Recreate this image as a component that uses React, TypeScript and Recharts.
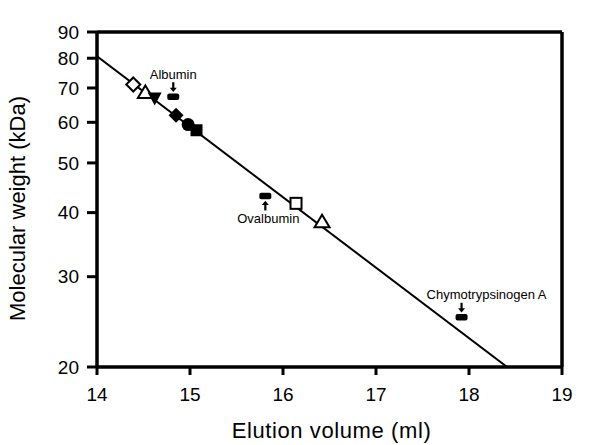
import React from 'react';
import { ScatterChart, Scatter, XAxis, YAxis, ReferenceLine, Label } from 'recharts';

// Proteins on the calibration curve
const markerKinds = [
  'diamondOpen',
  'triangleOpen',
  'triangleDownFilled',
  'diamondFilled',
  'circleFilled',
  'squareFilled',
  'squareOpen',
  'triangleOpen',
];
const elutionVolumes = [14.39, 14.52, 14.62, 14.85, 14.98, 15.07, 16.14, 16.42];
const molecularWeights = [71.1, 68.6, 66.8, 61.9, 59.4, 57.9, 41.7, 38.4];

// Standards (black markers with arrows)
const standardNames = ['Albumin', 'Ovalbumin', 'Chymotrypsinogen A'];
const standardVolumes = [14.82, 15.81, 17.92];
const standardWeights = [67.3, 43.1, 25.0];

// Fitted line end points
const fitVolumes = [14, 18.41];
const fitWeights = [80.7, 20];

const xTicks = [14, 15, 16, 17, 18, 19];
const yTicks = [20, 30, 40, 50, 60, 70, 80, 90];

const FONT = '"Liberation Sans", Arial, sans-serif';

// label placement for the standards: arrow above/below, label x shift
const standardLayout: { [name: string]: { below: boolean; dx: number } } = {
  Albumin: { below: false, dx: 0 },
  Ovalbumin: { below: true, dx: 3 },
  'Chymotrypsinogen A': { below: false, dx: 25 },
};

const proteinData = elutionVolumes.map((x, i) => ({ x, y: molecularWeights[i], kind: markerKinds[i] }));
const standardData = standardVolumes.map((x, i) => ({ x, y: standardWeights[i], name: standardNames[i] }));
const fitData = fitVolumes.map((x, i) => ({ x, y: fitWeights[i] }));

const renderProtein = (props: any) => {
  const { cx, cy, payload } = props;
  if (cx == null || cy == null) return <g />;
  const s = 7;
  switch (payload.kind) {
    case 'diamondOpen':
      return (
        <polygon
          points={`${cx},${cy - s} ${cx + s},${cy} ${cx},${cy + s} ${cx - s},${cy}`}
          fill="#fff"
          stroke="#000"
          strokeWidth={2}
        />
      );
    case 'diamondFilled':
      return (
        <polygon
          points={`${cx},${cy - 7.5} ${cx + 7.5},${cy} ${cx},${cy + 7.5} ${cx - 7.5},${cy}`}
          fill="#000"
        />
      );
    case 'triangleOpen':
      return (
        <polygon
          points={`${cx},${cy - 7} ${cx + 7.5},${cy + 5.5} ${cx - 7.5},${cy + 5.5}`}
          fill="#fff"
          stroke="#000"
          strokeWidth={2}
        />
      );
    case 'triangleDownFilled':
      return <polygon points={`${cx - 7},${cy - 6} ${cx + 7},${cy - 6} ${cx},${cy + 7}`} fill="#000" />;
    case 'circleFilled':
      return <circle cx={cx} cy={cy} r={6.5} fill="#000" />;
    case 'squareFilled':
      return <rect x={cx - 6} y={cy - 6} width={12} height={12} fill="#000" />;
    case 'squareOpen':
      return <rect x={cx - 5.5} y={cy - 5.5} width={11} height={11} fill="#fff" stroke="#000" strokeWidth={2} />;
    default:
      return <g />;
  }
};

const renderStandard = (props: any) => {
  const { cx, cy, payload } = props;
  if (cx == null || cy == null) return <g />;
  const layout = standardLayout[payload.name];
  const dir = layout.below ? 1 : -1;
  return (
    <g>
      <rect x={cx - 6} y={cy - 3.2} width={12} height={6.4} rx={2} fill="#000" />
      <line x1={cx} y1={cy + dir * 14.5} x2={cx} y2={cy + dir * 8} stroke="#000" strokeWidth={2.2} />
      <polygon
        points={`${cx - 3.5},${cy + dir * 9} ${cx + 3.5},${cy + dir * 9} ${cx},${cy + dir * 4.8}`}
        fill="#000"
      />
      <text
        x={cx + layout.dx}
        y={layout.below ? cy + 27 : cy - 18}
        textAnchor="middle"
        fontSize={13}
        fontFamily={FONT}
        fill="#000"
      >
        {payload.name}
      </text>
    </g>
  );
};

const App: React.FC = () => {
  return (
    <div style={{ position: 'absolute', left: 0, top: 0, fontFamily: FONT }}>
      <ScatterChart width={600} height={445} margin={{ top: 32, right: 38, bottom: 0, left: 0 }}>
        <XAxis
          type="number"
          dataKey="x"
          domain={[14, 19]}
          ticks={xTicks}
          interval={0}
          allowDataOverflow
          height={78}
          tickSize={8}
          tickMargin={13}
          tick={{ fill: '#000', fontSize: 19, fontFamily: FONT }}
          axisLine={{ stroke: '#000', strokeWidth: 3.5 }}
          tickLine={{ stroke: '#000', strokeWidth: 3 }}
        >
          <Label
            content={(p: any) => {
              const vb = p.viewBox;
              return (
                <text
                  x={vb.x + vb.width / 2 + 2}
                  y={vb.y + 71}
                  textAnchor="middle"
                  fontSize={22}
                  letterSpacing={0.6}
                  fontFamily={FONT}
                  fill="#000"
                >
                  Elution volume (ml)
                </text>
              );
            }}
          />
        </XAxis>
        <YAxis
          type="number"
          dataKey="y"
          scale="log"
          domain={[20, 90]}
          ticks={yTicks}
          interval={0}
          allowDataOverflow
          width={97}
          tickSize={10}
          tickMargin={8}
          tick={{ fill: '#000', fontSize: 19, fontFamily: FONT }}
          axisLine={{ stroke: '#000', strokeWidth: 3.5 }}
          tickLine={{ stroke: '#000', strokeWidth: 3 }}
        >
          <Label
            content={(p: any) => {
              const vb = p.viewBox;
              const x = vb.x + 25;
              const y = vb.y + vb.height / 2 + 9;
              return (
                <text
                  x={x}
                  y={y}
                  transform={`rotate(-90, ${x}, ${y})`}
                  textAnchor="middle"
                  fontSize={22}
                  fontFamily={FONT}
                  fill="#000"
                >
                  Molecular weight (kDa)
                </text>
              );
            }}
          />
        </YAxis>
        <ReferenceLine y={90} stroke="#000" strokeWidth={3.5} />
        <ReferenceLine x={19} stroke="#000" strokeWidth={3.5} />
        <Scatter
          data={fitData}
          line={{ stroke: '#000', strokeWidth: 2 }}
          shape={() => <g />}
          isAnimationActive={false}
        />
        <Scatter data={standardData} shape={renderStandard} isAnimationActive={false} />
        <Scatter data={proteinData} shape={renderProtein} isAnimationActive={false} />
      </ScatterChart>
    </div>
  );
};

export default App;
